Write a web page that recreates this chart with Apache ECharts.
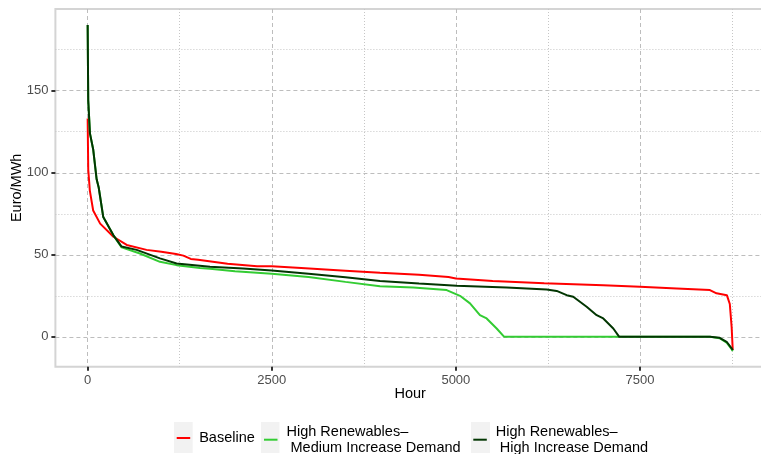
<!DOCTYPE html>
<html>
<head>
<meta charset="utf-8">
<script src="https://cdn.jsdelivr.net/npm/echarts@6/dist/echarts.min.js"></script>
<style>
  html, body { margin: 0; padding: 0; background: #ffffff; }
  #chart { width: 761px; height: 454px; }
</style>
</head>
<body>
<div id="chart"></div>
<script>
// Price duration curves: hourly prices sorted from highest to lowest.
const seriesNames = [
  'Baseline',
  'High Renewables–Medium Increase Demand',
  'High Renewables–High Increase Demand'
];
const legendLabels = [
  'Baseline',
  'High Renewables–\n Medium Increase Demand',
  'High Renewables–\n High Increase Demand'
];
const seriesColors = ['#ff0000', '#33cc33', '#023602'];

const baselineHours = [0, 8, 30, 75, 170, 350, 530, 800, 1000, 1200, 1300, 1400, 1500, 1900, 2300, 2500, 2900, 3500, 3970, 4500, 4900, 5000, 5500, 6200, 7000, 7500, 8000, 8450, 8540, 8680, 8720, 8745, 8760];
const baselinePrice = [133, 102, 89, 77, 69, 61, 56, 53, 51.8, 50.5, 49.5, 47.5, 47, 44.5, 43, 43, 42, 40.3, 39, 37.8, 36.5, 35.6, 34, 32.6, 31.5, 30.5, 29.5, 28.5, 26.5, 25.4, 20, 6, -8];

const mediumHours = [0, 8, 31, 76, 122, 150, 212, 348, 461, 710, 982, 1208, 1525, 1661, 2000, 2500, 3000, 3500, 3970, 4422, 4875, 5056, 5192, 5327, 5418, 5554, 5657, 8450, 8582, 8677, 8745, 8760];
const mediumPrice = [190, 144, 124, 114, 96, 91, 73, 62, 54.5, 50.8, 45.7, 43.7, 41.9, 41.5, 40, 38.5, 36.5, 33.5, 30.9, 30.1, 28.5, 25, 20.4, 13.2, 11.2, 5.1, 0, 0, -0.8, -3.5, -7.5, -8.7];

const highHours = [0, 8, 31, 76, 122, 150, 212, 348, 461, 665, 982, 1208, 1661, 2110, 2500, 3000, 3500, 3970, 4500, 5011, 5690, 6233, 6369, 6505, 6594, 6776, 6912, 7002, 7138, 7219, 8450, 8582, 8677, 8745, 8760];
const highPrice = [190, 144, 124, 114, 96, 91, 73, 62, 55, 53, 47.8, 44.7, 42.7, 41.7, 40.5, 38.5, 36.3, 34.1, 32.5, 31.1, 30.1, 28.9, 28, 25.4, 24.4, 18.3, 13.2, 11.2, 5.1, 0, 0, -0.6, -3, -7, -8];

const xMajorTicks = [0, 2500, 5000, 7500];
const xMinorTicks = [1250, 3750, 6250, 8750];
const yMajorTicks = [0, 50, 100, 150];
const yMinorTicks = [25, 75, 125, 175];

const xRange = [-438, 9198];
const yRange = [-18.2, 199.8];

const FONT = 'Liberation Sans, Arial, Helvetica, sans-serif';

function pairs(xs, ys) {
  return xs.map((x, i) => [x, ys[i]]);
}
const plainNumber = v => String(v);

const majorLine = { show: true, lineStyle: { color: '#bdbdbd', width: 1, type: [4, 3] } };
const minorLine = { show: true, lineStyle: { color: '#c6c6c6', width: 1, type: [1, 2] } };

const chart = echarts.init(document.getElementById('chart'), null, { renderer: 'canvas' });

const legendLefts = [176.7, 264, 473.3];
const legendTops = [430, 423.7, 423.7];

chart.setOption({
  backgroundColor: '#ffffff',
  animation: false,
  grid: {
    left: 55.4, top: 9, width: 709.6, height: 357.7,
    outerBoundsMode: 'none', containLabel: false,
    show: true, borderColor: '#d4d4d4', borderWidth: 2, backgroundColor: 'transparent'
  },
  xAxis: [
    {
      type: 'value', min: xRange[0], max: xRange[1],
      name: 'Hour', nameLocation: 'middle', nameGap: 20, nameMoveOverlap: false,
      nameTextStyle: { color: '#000000', fontSize: 14.5, fontFamily: FONT },
      axisLine: { show: false, onZero: false },
      axisTick: { show: true, customValues: xMajorTicks, length: 4, lineStyle: { color: '#333333', width: 2 } },
      axisLabel: { show: true, customValues: xMajorTicks, formatter: plainNumber, margin: 7.5, color: '#4d4d4d', fontSize: 13, fontFamily: FONT },
      splitLine: majorLine
    },
    {
      type: 'value', min: xRange[0], max: xRange[1], position: 'bottom',
      axisLine: { show: false, onZero: false },
      axisTick: { show: false, customValues: xMinorTicks },
      axisLabel: { show: false, customValues: xMinorTicks },
      splitLine: minorLine
    }
  ],
  yAxis: [
    {
      type: 'value', min: yRange[0], max: yRange[1],
      name: 'Euro/MWh', nameLocation: 'middle', nameGap: 31, nameRotate: 90, nameMoveOverlap: false,
      nameTextStyle: { color: '#000000', fontSize: 14.5, fontFamily: FONT },
      axisLine: { show: false, onZero: false },
      axisTick: { show: true, customValues: yMajorTicks, length: 4, lineStyle: { color: '#333333', width: 2 } },
      axisLabel: { show: true, customValues: yMajorTicks, formatter: plainNumber, margin: 7, color: '#4d4d4d', fontSize: 13, fontFamily: FONT },
      splitLine: majorLine
    },
    {
      type: 'value', min: yRange[0], max: yRange[1], position: 'left',
      axisLine: { show: false, onZero: false },
      axisTick: { show: false, customValues: yMinorTicks },
      axisLabel: { show: false, customValues: yMinorTicks },
      splitLine: minorLine
    }
  ],
  legend: seriesNames.map((name, i) => ({
    data: [name],
    left: legendLefts[i], top: legendTops[i],
    padding: 0, itemGap: 0,
    itemWidth: 13.5, itemHeight: 2,
    icon: 'rect',
    selectedMode: false,
    formatter: () => legendLabels[i],
    textStyle: { color: '#000000', fontSize: 14.5, fontFamily: FONT, lineHeight: 16, padding: [0, 0, 0, 4] }
  })),
  graphic: [
    { type: 'rect', z: -1, shape: { x: 174, y: 422, width: 18.7, height: 31 }, style: { fill: '#f2f2f2' } },
    { type: 'rect', z: -1, shape: { x: 261, y: 422, width: 18.5, height: 31 }, style: { fill: '#f2f2f2' } },
    { type: 'rect', z: -1, shape: { x: 471, y: 422, width: 19, height: 31 }, style: { fill: '#f2f2f2' } }
  ],
  series: [
    { name: seriesNames[0], data: pairs(baselineHours, baselinePrice) },
    { name: seriesNames[1], data: pairs(mediumHours, mediumPrice) },
    { name: seriesNames[2], data: pairs(highHours, highPrice) }
  ].map((s, i) => Object.assign(s, {
    type: 'line', xAxisIndex: 0, yAxisIndex: 0,
    showSymbol: false, symbol: 'none',
    color: seriesColors[i],
    lineStyle: { color: seriesColors[i], width: 2 },
    z: 3 + i
  }))
});
</script>
</body>
</html>
